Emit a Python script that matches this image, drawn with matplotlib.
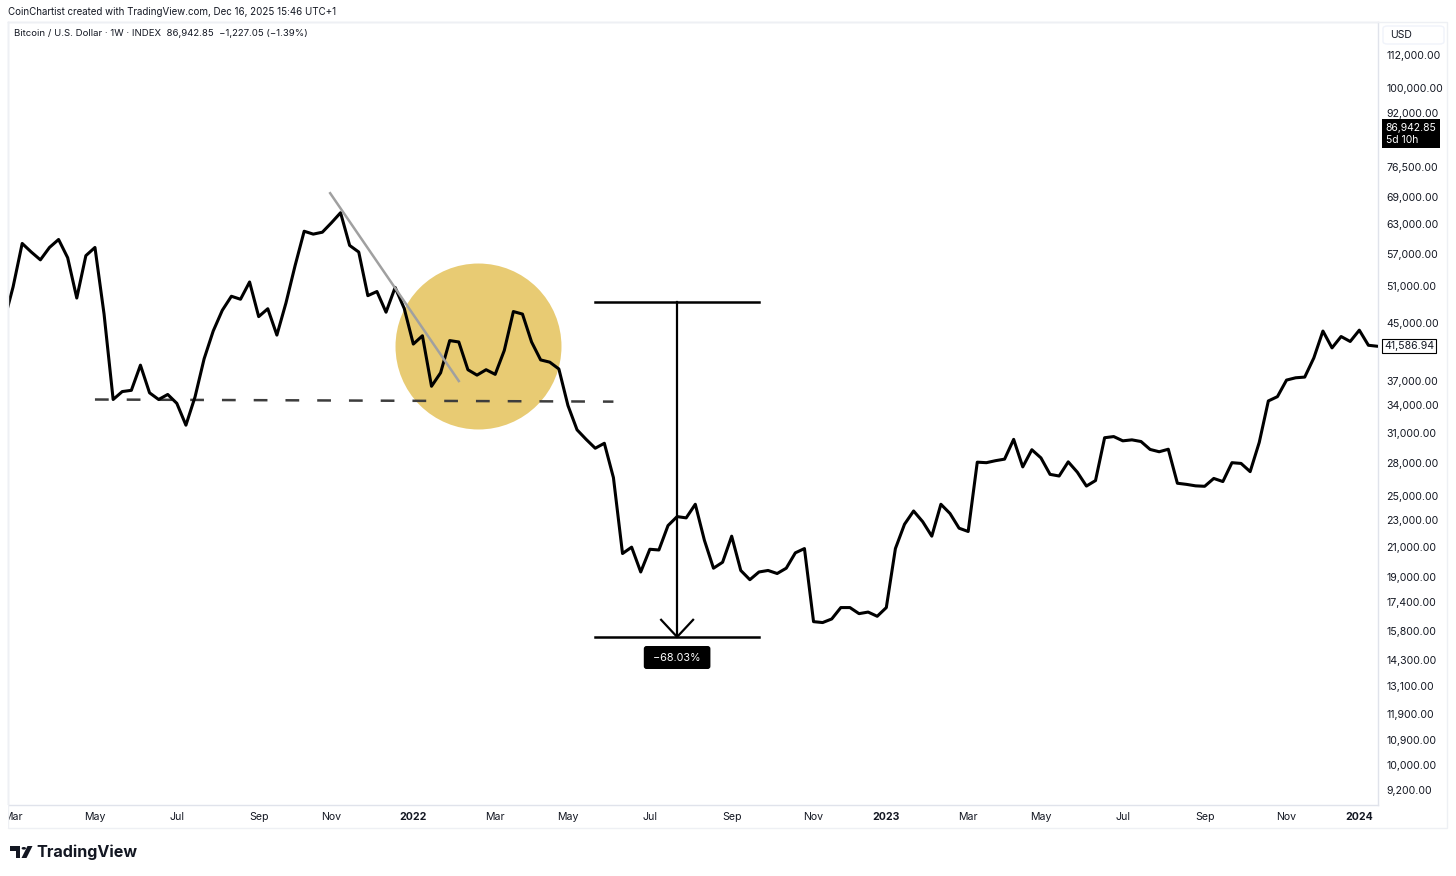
import matplotlib.pyplot as plt
import matplotlib.dates as mdates
import matplotlib.transforms as mtransforms
from matplotlib.patches import Rectangle, Polygon, Circle, FancyBboxPatch
from matplotlib.ticker import NullLocator, NullFormatter
import numpy as np
import pandas as pd

plt.rcParams['font.family'] = ['Inter', 'DejaVu Sans']

W, H = 1456, 876
TXT = '#131722'
BORDER = '#e0e3eb'

# weekly closes (BTC/USD index), one per week starting Monday 2021-02-22
first_week = '2021-02-22'
closes = [
    45240, 50900, 59000, 57300, 55800, 58200, 59800, 56200, 49000, 56600,
    58200, 46400, 34700, 35650, 35800, 39000, 35500, 34700, 35300, 34250,
    31800, 35000, 39850, 43800, 47000, 49300, 48800, 51750, 46000, 47250,
    43200, 48200, 54700, 61500, 60900, 61300, 63300, 65500, 58600, 57300,
    49400, 50100, 46700, 50800, 47300, 41900, 43100, 36300, 38000, 42400,
    42200, 38400, 37700, 38400, 37800, 41000, 46800, 46400, 42200, 39700,
    39400, 38500, 34000, 31300, 30300, 29400, 29900, 26600, 20550, 21000,
    19300, 20850, 20800, 22600, 23300, 23200, 24300, 21500, 19550, 19950,
    21800, 19400, 18800, 19300, 19400, 19200, 19550, 20600, 20900, 16300,
    16250, 16450, 17100, 17100, 16750, 16840, 16600, 17100, 20900, 22700,
    23750, 22900, 21800, 24300, 23550, 22400, 22150, 28040, 27990, 28180,
    28330, 30300, 27590, 29250, 28450, 26900, 26750, 28070, 27100, 25850,
    26340, 30470, 30590, 30150, 30250, 30080, 29280, 29050, 29300, 26100,
    26000, 25870, 25830, 26530, 26250, 27990, 27920, 27150, 29990, 34530,
    35040, 37070, 37360, 37450, 39970, 43800, 41360, 42990, 42270, 43930,
    41730, 41586.94,
]

price_ticks = [112000, 100000, 92000, 76500, 69000, 63000, 57000, 51000, 45000,
               37000, 34000, 31000, 28000, 25000, 23000, 21000, 19000, 17400,
               15800, 14300, 13100, 11900, 10900, 10000, 9200]

month_ticks = ['2021-03-01', '2021-05-03', '2021-07-05', '2021-09-06', '2021-11-01',
               '2022-01-03', '2022-03-07', '2022-05-02', '2022-07-04', '2022-09-05',
               '2022-11-07', '2023-01-02', '2023-03-06', '2023-05-01', '2023-07-03',
               '2023-09-04', '2023-11-06', '2024-01-01']
month_labels = ['Mar', 'May', 'Jul', 'Sep', 'Nov', '2022', 'Mar', 'May', 'Jul', 'Sep',
                'Nov', '2023', 'Mar', 'May', 'Jul', 'Sep', 'Nov', '2024']

current_price = 86942.85
last_close = closes[-1]

# drawings on the chart
trend_dates = ['2021-10-31', '2022-02-07']
trend_prices = [70000, 36950]
support_dates = ['2021-05-03', '2022-06-06']
support_prices = [34700, 34450]
zone_date, zone_price = '2022-02-22', 41600
measure_start, measure_mid, measure_end = '2022-05-23', '2022-07-25', '2022-09-26'
measure_top = 48400
measure_change = -68.03


def fx(x):
    return x / W


def fy(y):
    return 1 - y / H


dates = pd.date_range(first_week, periods=len(closes), freq='7D')
t0 = mdates.date2num(pd.Timestamp(first_week))
px_week = 9.096

fig = plt.figure(figsize=(W / 100, H / 100), dpi=100)
fig.patch.set_facecolor('white')

ax = fig.add_axes([fx(8), fy(805), (1378 - 8) / W, (805 - 22) / H])
ax.set_yscale('log')
ax.set_ylim(8737, 125300)
ax.set_xlim(t0 + (8 - 4) / px_week * 7, t0 + (1378 - 4) / px_week * 7)

# yellow zone
ax.scatter([pd.Timestamp(zone_date)], [zone_price], s=119.5 ** 2, color='#e8cb73',
           linewidths=0, zorder=1)

# support dashed line
ax.plot(pd.to_datetime(support_dates), support_prices, color='#3d3d3d', lw=1.8,
        dashes=(5.5, 7.2), zorder=2)

# price line
ax.plot(dates, closes, color='black', lw=2.2, solid_joinstyle='round',
        solid_capstyle='round', zorder=3)

# trend line
ax.plot(pd.to_datetime(trend_dates), trend_prices, color='#a0a0a0', lw=1.8, zorder=4)

# measure tool
bottom = measure_top * (1 + measure_change / 100)
ms, mm, me = pd.Timestamp(measure_start), pd.Timestamp(measure_mid), pd.Timestamp(measure_end)
ax.plot([ms, me], [measure_top, measure_top], color='black', lw=1.8, zorder=5)
ax.plot([ms, me], [bottom, bottom], color='black', lw=1.8, zorder=5)
ax.plot([mm, mm], [measure_top, bottom], color='black', lw=1.6, zorder=5)
arm = pd.Timedelta(days=12.3)
ax.plot([mm - arm, mm, mm + arm], [bottom * 1.06, bottom, bottom * 1.06], color='black',
        lw=1.6, zorder=5)
ax.annotate(' ' + f'{measure_change:.2f}%'.replace('-', '\u2212') + ' ', xy=(mm, bottom),
            xytext=(0, -14.8), textcoords='offset points', ha='center', va='center',
            color='white', fontsize=7.8, zorder=6,
            bbox=dict(boxstyle='round,pad=0.6,rounding_size=0.25', fc='black', ec='none'))

# axes styling
for s in ax.spines.values():
    s.set_color(BORDER)
    s.set_linewidth(1)

ax.yaxis.tick_right()
ax.set_yticks(price_ticks)
ax.set_yticklabels([f'{v:,.2f}' for v in price_ticks])
ax.yaxis.set_minor_locator(NullLocator())
ax.yaxis.set_minor_formatter(NullFormatter())
ax.tick_params(axis='y', length=0, pad=5.8, labelsize=7.6, labelcolor=TXT)

ax.set_xticks(pd.to_datetime(month_ticks))
ax.set_xticklabels(month_labels)
ax.tick_params(axis='x', length=0, pad=4.8, labelsize=7.6, labelcolor=TXT)
for lab in ax.get_xticklabels():
    if lab.get_text().isdigit():
        lab.set_fontweight('bold')

# price labels on the scale
blend = mtransforms.blended_transform_factory(ax.transAxes, ax.transData)
ax.annotate('86,942.85\n5d 10h', xy=(1, current_price), xycoords=blend,
            xytext=(5.6, 4.6), textcoords='offset points', ha='left', va='top',
            color='white', fontsize=7.5, linespacing=1.2, annotation_clip=False,
            bbox=dict(boxstyle='square,pad=0.35', fc='black', ec='none'))
ax.annotate(f'{last_close:,.2f}', xy=(1, last_close), xycoords=blend,
            xytext=(4.5, 0), textcoords='offset points', ha='left', va='center',
            color=TXT, fontsize=7.6, annotation_clip=False,
            bbox=dict(boxstyle='square,pad=0.2', fc='white', ec='black', lw=0.8))

# frame around chart, time and price scales
fig.patches.append(Rectangle((fx(8), fy(828)), (1447 - 8) / W, (828 - 22) / H,
                             transform=fig.transFigure, fill=False, ec='#eef0f4', lw=1))
fig.patches.append(Rectangle((0, fy(828)), fx(7.5), (828 - 805) / H,
                             transform=fig.transFigure, fc='white', ec='none', zorder=10))
fig.patches.append(FancyBboxPatch((fx(1383), fy(44)), (1444 - 1383) / W, (44 - 26) / H,
                                  boxstyle='round,pad=0,rounding_size=0.003',
                                  transform=fig.transFigure, fc='white', ec='#f0f3fa', lw=1))
fig.text(fx(1390), fy(35), 'USD', fontsize=7.5, color=TXT, va='center', ha='left')

# header texts
fig.text(fx(8), fy(12), 'CoinChartist created with TradingView.com, Dec 16, 2025 15:46 UTC+1',
         fontsize=7.0, color=TXT, va='center', ha='left')
fig.text(fx(14), fy(34),
         'Bitcoin / U.S. Dollar \u00b7 1W \u00b7 INDEX  86,942.85  \u22121,227.05 (\u22121.39%)',
         fontsize=6.9, color=TXT, va='center', ha='left')

# TradingView logo
logo_t = [(10, 846), (20, 846), (20, 858), (15.5, 858), (15.5, 850.5), (10, 850.5)]
fig.patches.append(Polygon([(fx(x), fy(y)) for x, y in logo_t], closed=True,
                           transform=fig.transFigure, fc=TXT, ec='none'))
fig.patches.append(Circle((fx(23.8), fy(848.3)), 2.2 / W, transform=fig.transFigure,
                          fc=TXT, ec='none'))
logo_v = [(27.5, 846), (32.5, 846), (26.5, 858), (21.5, 858)]
fig.patches.append(Polygon([(fx(x), fy(y)) for x, y in logo_v], closed=True,
                           transform=fig.transFigure, fc=TXT, ec='none'))
fig.text(fx(36), fy(852), 'TradingView', fontsize=11.6, fontweight='bold', color=TXT,
         va='center', ha='left')

fig.savefig('out.png', dpi=100)
